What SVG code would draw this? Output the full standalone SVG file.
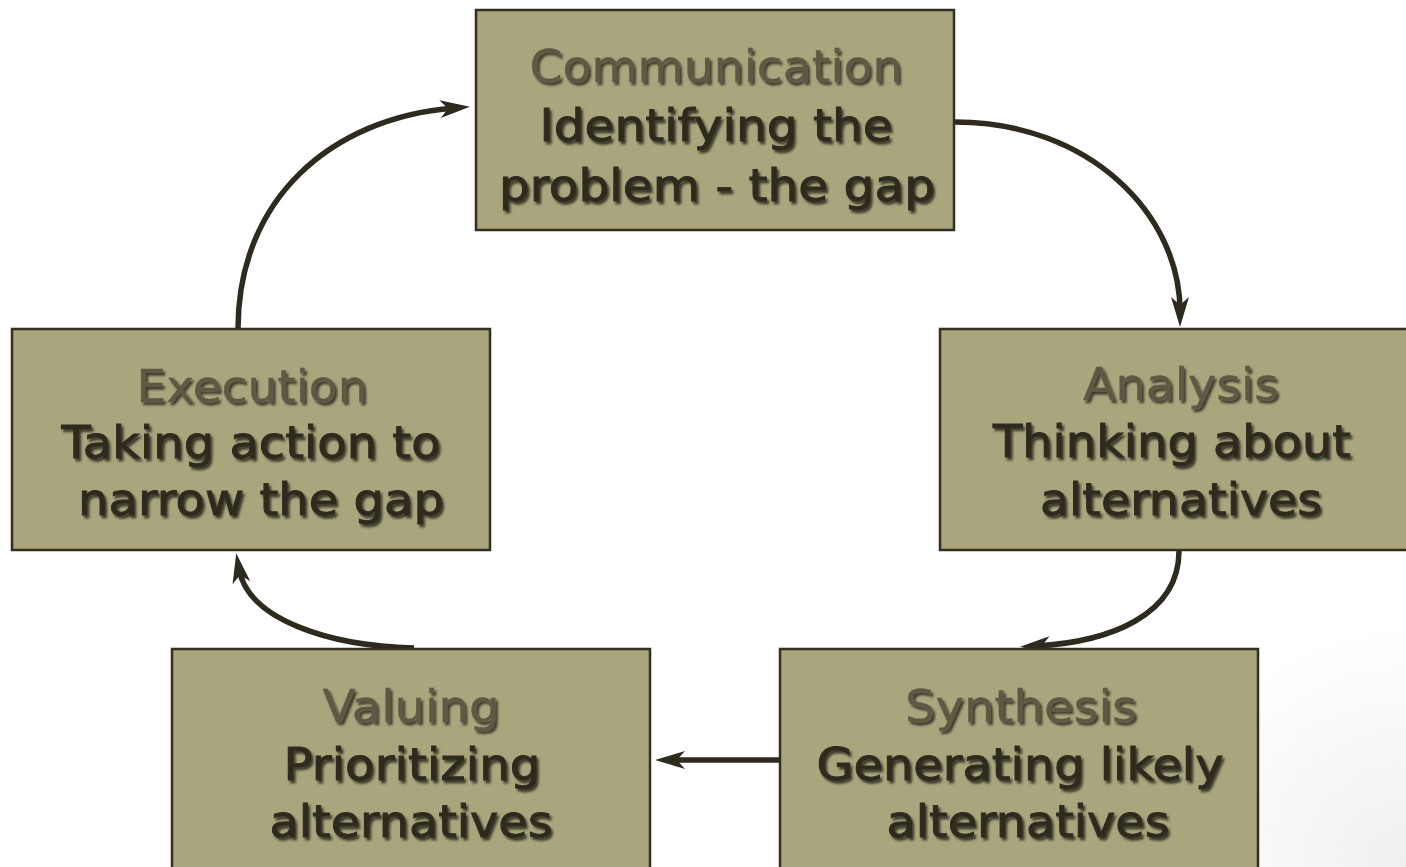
<svg xmlns="http://www.w3.org/2000/svg" width="1406" height="867" viewBox="0 0 1406 867">
<defs>
<style>
.box{fill:#A9A67D;stroke:#332F22;stroke-width:2.5}
.t{font-family:"DejaVu Sans","Liberation Sans",sans-serif;font-size:44px;text-anchor:middle;filter:url(#sh)}
.h{fill:#5E5944;stroke:#5E5944;stroke-width:0.4px}
.b{fill:#2E2A1F;stroke:#2E2A1F;stroke-width:0.9px}
.c{fill:none;stroke:#2E2A1E;stroke-width:5.5}
</style>
<filter id="sh" x="-10%" y="-30%" width="120%" height="160%">
<feDropShadow dx="2.2" dy="2.8" stdDeviation="1.3" flood-color="#000" flood-opacity="0.65"/>
</filter>
<marker id="arr" markerUnits="userSpaceOnUse" orient="auto" overflow="visible" refX="0" refY="0" markerWidth="1" markerHeight="1">
<path d="M16,0 L-14,-9 L-6,0 L-14,9 Z" fill="#2E2A1E"/>
</marker>
<radialGradient id="bg" cx="1406" cy="867" r="240" gradientUnits="userSpaceOnUse">
<stop offset="0" stop-color="#EFEFEF"/>
<stop offset="1" stop-color="#FFFFFF"/>
</radialGradient>
</defs>
<rect x="0" y="0" width="1406" height="867" fill="url(#bg)"/>

<g id="connectors">
<path class="c" marker-end="url(#arr)" d="M955,122 C1090,122 1180,215 1180,311"/>
<path class="c" marker-end="url(#arr)" d="M1179,551 C1179,615 1110,642 1036,646"/>
<path class="c" marker-end="url(#arr)" d="M779,760 L671,760"/>
<path class="c" marker-end="url(#arr)" d="M414,648 C330,646 248,620 239,569"/>
<path class="c" marker-end="url(#arr)" d="M238,329 C238,200 330,118 454,108"/>
</g>

<g id="communication">
<rect class="box" x="476" y="10" width="478" height="220"/>
<text class="t h" x="716" y="82" textLength="373" lengthAdjust="spacingAndGlyphs">Communication</text>
<text class="t b" x="716" y="141" textLength="353" lengthAdjust="spacingAndGlyphs">Identifying the</text>
<text class="t b" x="717" y="201" textLength="436" lengthAdjust="spacingAndGlyphs">problem - the gap</text>
</g>

<g id="analysis">
<rect class="box" x="940" y="329" width="478" height="221"/>
<text class="t h" x="1181" y="400" textLength="196" lengthAdjust="spacingAndGlyphs">Analysis</text>
<text class="t b" x="1172" y="457" textLength="358" lengthAdjust="spacingAndGlyphs">Thinking about</text>
<text class="t b" x="1181" y="515" textLength="282" lengthAdjust="spacingAndGlyphs">alternatives</text>
</g>

<g id="synthesis">
<rect class="box" x="780" y="649" width="478" height="230"/>
<text class="t h" x="1021" y="722" textLength="232" lengthAdjust="spacingAndGlyphs">Synthesis</text>
<text class="t b" x="1020" y="780" textLength="407" lengthAdjust="spacingAndGlyphs">Generating likely</text>
<text class="t b" x="1028" y="837" textLength="283" lengthAdjust="spacingAndGlyphs">alternatives</text>
</g>

<g id="valuing">
<rect class="box" x="172" y="649" width="478" height="230"/>
<text class="t h" x="411" y="722" textLength="177" lengthAdjust="spacingAndGlyphs">Valuing</text>
<text class="t b" x="412" y="780" textLength="257" lengthAdjust="spacingAndGlyphs">Prioritizing</text>
<text class="t b" x="411" y="837" textLength="283" lengthAdjust="spacingAndGlyphs">alternatives</text>
</g>

<g id="execution">
<rect class="box" x="12" y="329" width="478" height="221"/>
<text class="t h" x="252" y="402" textLength="231" lengthAdjust="spacingAndGlyphs">Execution</text>
<text class="t b" x="251" y="458" textLength="379" lengthAdjust="spacingAndGlyphs">Taking action to</text>
<text class="t b" x="261" y="515" textLength="366" lengthAdjust="spacingAndGlyphs">narrow the gap</text>
</g>
</svg>
